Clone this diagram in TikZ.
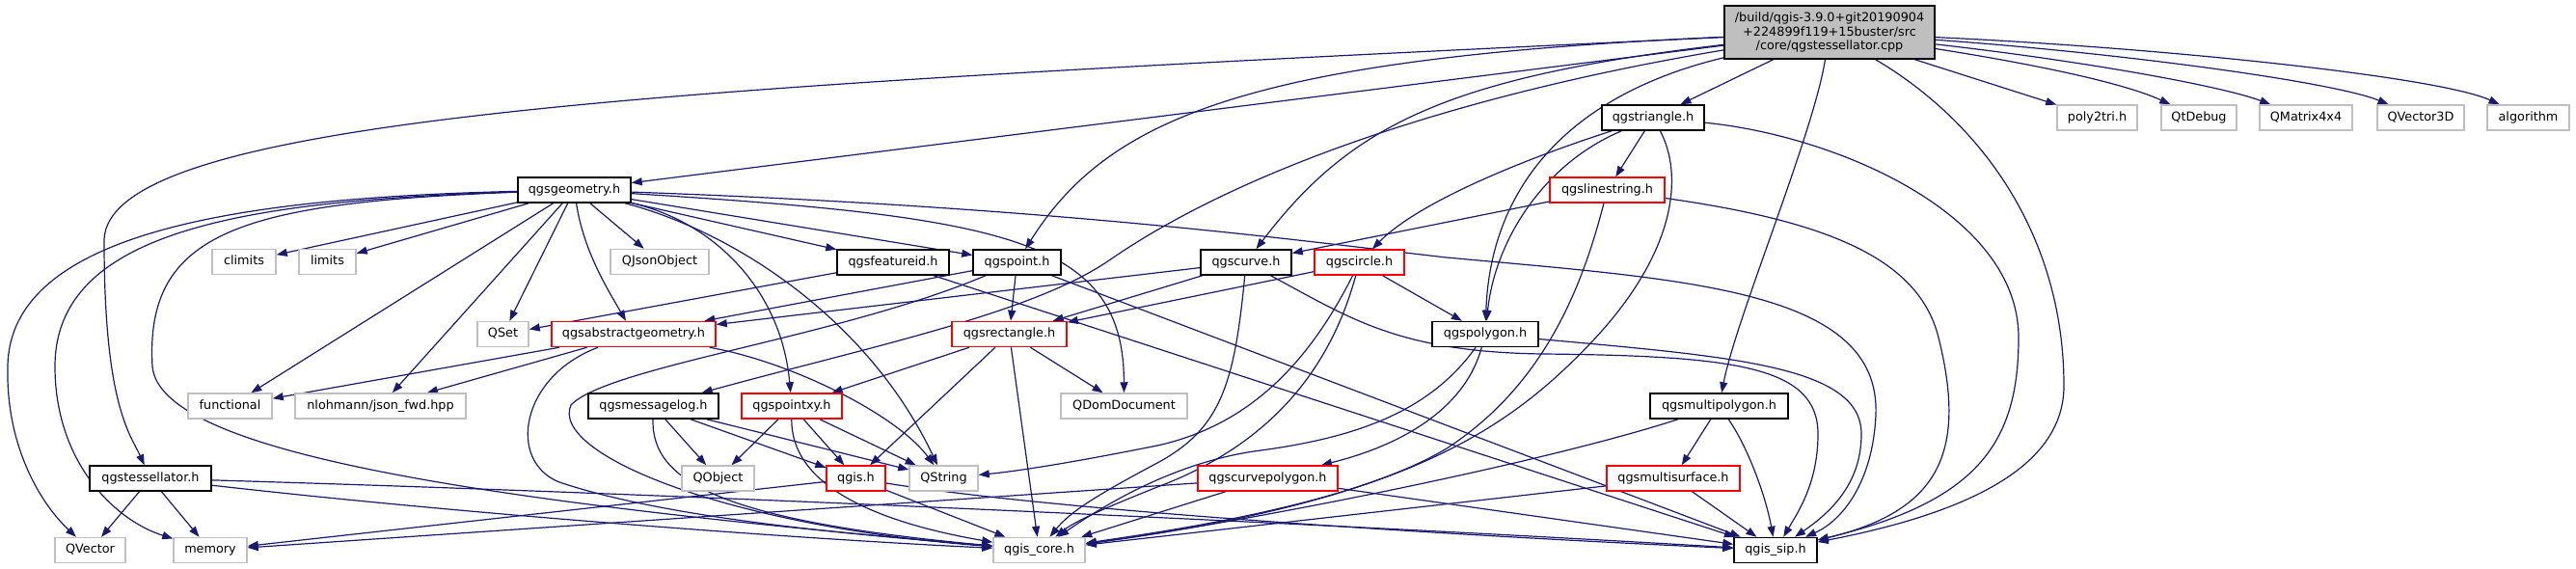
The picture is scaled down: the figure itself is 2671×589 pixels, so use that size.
\documentclass[tikz,border=0pt]{standalone}
\usepackage{fontspec}
\setmainfont{DejaVu Sans}
\usetikzlibrary{arrows.meta}
\pgfdeclarelayer{background}
\pgfsetlayers{background,main}
\definecolor{navy}{HTML}{191970}
\definecolor{greyb}{HTML}{BFBFBF}
\tikzset{
  nb/.style={draw, rectangle, fill=white, minimum height=26pt, inner xsep=2pt, inner ysep=0pt,
    text height=9.5pt, text depth=2.8pt, font=\fontsize{12.8}{15}\selectfont, line width=1.5pt},
  doc/.style={nb, draw=black},
  trunc/.style={nb, draw=red},
  ext/.style={nb, draw=greyb},
  srcnode/.style={draw=black, fill=greyb, rectangle, line width=1.5pt, minimum width=218pt, minimum height=55pt,
    inner sep=2pt, align=center, font=\fontsize{12.8}{14.5}\selectfont},
  dep/.style={draw=navy, line width=1.2pt, -{Triangle[length=11pt,width=8pt]}},
}
\begin{document}
\begin{tikzpicture}[x=1pt,y=-1pt]
\useasboundingbox (0,0) rectangle (2671,589);
\node[srcnode] (src) at (1897,33.5) {/build/qgis-3.9.0+git20190904\\+224899f119+15buster/src\\/core/qgstessellator.cpp};
\node[doc, minimum width=126pt] (tess) at (156,496) {qgstessellator.h};
\node[doc, minimum width=117pt] (geom) at (595.5,197) {qgsgeometry.h};
\node[doc, minimum width=106pt] (tri) at (1714,122) {qgstriangle.h};
\node[ext, minimum width=83pt] (poly2tri) at (2174.5,122) {poly2tri.h};
\node[ext, minimum width=78pt] (QtDebug) at (2280,122) {QtDebug};
\node[ext, minimum width=96pt] (QMatrix) at (2391,122) {QMatrix4x4};
\node[ext, minimum width=90pt] (QVectorThree) at (2510,122) {QVector3D};
\node[ext, minimum width=85pt] (algorithm) at (2621.5,122) {algorithm};
\node[trunc, minimum width=119pt] (linestring) at (1666.5,197) {qgslinestring.h};
\node[ext, minimum width=66pt] (climits) at (253,271.5) {climits};
\node[ext, minimum width=59pt] (limits) at (339.5,271.5) {limits};
\node[ext, minimum width=102pt] (QJsonObject) at (684,271.5) {QJsonObject};
\node[doc, minimum width=116pt] (featureid) at (926,272) {qgsfeatureid.h};
\node[doc, minimum width=91pt] (qgspoint) at (1054.5,272) {qgspoint.h};
\node[doc, minimum width=94pt] (curve) at (1292,272) {qgscurve.h};
\node[trunc, minimum width=93pt] (circle) at (1409.5,272) {qgscircle.h};
\node[ext, minimum width=53pt] (QSet) at (521.5,346.5) {QSet};
\node[trunc, minimum width=170pt] (abs) at (657,346.5) {qgsabstractgeometry.h};
\node[trunc, minimum width=119pt] (rect) at (1046.5,346.5) {qgsrectangle.h};
\node[doc, minimum width=110pt] (polygon) at (1540,346.5) {qgspolygon.h};
\node[ext, minimum width=87pt] (functional) at (238.5,421) {functional};
\node[ext, minimum width=177pt] (nlohmann) at (394.5,421) {nlohmann/json\_fwd.hpp};
\node[doc, minimum width=135pt] (msglog) at (677.5,421) {qgsmessagelog.h};
\node[trunc, minimum width=104pt] (pointxy) at (821,421) {qgspointxy.h};
\node[ext, minimum width=131pt] (QDomDocument) at (1165.5,421) {QDomDocument};
\node[doc, minimum width=143pt] (multipolygon) at (1782.5,421) {qgsmultipolygon.h};
\node[ext, minimum width=75pt] (QObject) at (744.5,496) {QObject};
\node[trunc, minimum width=61pt] (qgis) at (887.5,496) {qgis.h};
\node[ext, minimum width=71pt] (QString) at (978.5,496) {QString};
\node[trunc, minimum width=145pt] (curvepolygon) at (1314.5,496) {qgscurvepolygon.h};
\node[trunc, minimum width=138pt] (multisurface) at (1735,496) {qgsmultisurface.h};
\node[ext, minimum width=73pt] (QVector) at (93.5,570.5) {QVector};
\node[ext, minimum width=76pt] (memory) at (218,570.5) {memory};
\node[ext, minimum width=95pt] (qgiscore) at (1077.5,570.5) {qgis\_core.h};
\node[doc, minimum width=86pt] (qgissip) at (1841,570.5) {qgis\_sip.h};

\begin{pgfonlayer}{background}
% source file
\draw[dep] (src) .. controls (700,90) and (108,120) .. (108,250) .. controls (108,420) and (135,450) .. (tess);
\draw[dep] (src) -- (geom);
\draw[dep] (src) .. controls (1300,60) and (1150,120) .. (qgspoint);
\draw[dep] (src) .. controls (1500,100) and (1280,180) .. (1150,270) .. controls (1070,325) and (900,360) .. (msglog);
\draw[dep] (src) .. controls (1500,80) and (1400,130) .. (curve);
\draw[dep] (src) .. controls (1620,100) and (1545,200) .. (polygon);
\draw[dep] (src) -- (tri);
\draw[dep] (src) .. controls (1880,140) and (1800,330) .. (multipolygon);
\draw[dep] (src) .. controls (2060,130) and (2140,250) .. (2140,400) .. controls (2140,480) and (2050,530) .. (qgissip);
\draw[dep] (src) -- (poly2tri);
\draw[dep] (src) .. controls (2100,65) and (2200,85) .. (QtDebug);
\draw[dep] (src) .. controls (2150,62) and (2300,88) .. (QMatrix);
\draw[dep] (src) .. controls (2200,55) and (2420,85) .. (QVectorThree);
\draw[dep] (src) .. controls (2250,50) and (2530,80) .. (algorithm);
% qgsgeometry.h
\draw[dep] (geom) -- (climits);
\draw[dep] (geom) -- (limits);
\draw[dep] (geom) -- (QJsonObject);
\draw[dep] (geom) -- (featureid);
\draw[dep] (geom) -- (qgspoint);
\draw[dep] (geom) -- (QSet);
\draw[dep] (geom) .. controls (605,260) and (630,300) .. (abs);
\draw[dep] (geom) -- (functional);
\draw[dep] (geom) -- (nlohmann);
\draw[dep] (geom) .. controls (740,230) and (810,300) .. (pointxy);
\draw[dep] (geom) .. controls (760,240) and (900,330) .. (QString);
\draw[dep] (geom) .. controls (1050,225) and (1165,250) .. (QDomDocument);
\draw[dep] (geom) .. controls (1100,215) and (1350,250) .. (1500,267) .. controls (1750,290) and (1950,300) .. (1945,430) .. controls (1942,500) and (1910,540) .. (qgissip);
\draw[dep] (geom) .. controls (250,205) and (10,240) .. (8,380) .. controls (6,460) and (40,520) .. (QVector);
\draw[dep] (geom) .. controls (250,208) and (57,240) .. (57,380) .. controls (57,480) and (120,540) .. (memory);
\draw[dep] (geom) .. controls (250,210) and (150,240) .. (158,380) .. controls (166,470) and (500,520) .. (qgiscore);
% qgsfeatureid.h
\draw[dep] (featureid) -- (QSet);
\draw[dep] (featureid) -- (qgissip);
% qgspoint.h
\draw[dep] (qgspoint) -- (abs);
\draw[dep] (qgspoint) -- (rect);
\draw[dep] (qgspoint) -- (qgissip);
\draw[dep] (qgspoint) .. controls (870,350) and (630,380) .. (592,420) .. controls (570,470) and (750,545) .. (qgiscore);
% qgscurve.h
\draw[dep] (curve) -- (abs);
\draw[dep] (curve) -- (rect);
\draw[dep] (curve) .. controls (1280,400) and (1265,445) .. (1200,480) .. controls (1140,512) and (1110,530) .. (qgiscore);
\draw[dep] (curve) .. controls (1400,330) and (1450,365) .. (1600,367) .. controls (1800,369) and (1885,380) .. (1885,450) .. controls (1885,500) and (1865,530) .. (qgissip);
% qgscircle.h
\draw[dep] (circle) -- (rect);
\draw[dep] (circle) -- (polygon);
\draw[dep] (circle) .. controls (1360,370) and (1300,440) .. (1200,462) .. controls (1120,478) and (1060,488) .. (QString);
\draw[dep] (circle) .. controls (1380,380) and (1320,460) .. (1200,505) .. controls (1150,525) and (1115,540) .. (qgiscore);
% qgstriangle.h
\draw[dep] (tri) .. controls (1580,165) and (1470,210) .. (circle);
\draw[dep] (tri) .. controls (1600,170) and (1550,250) .. (polygon);
\draw[dep] (tri) -- (linestring);
\draw[dep] (tri) .. controls (1745,180) and (1740,260) .. (1650,355) .. controls (1560,450) and (1450,520) .. (qgiscore);
\draw[dep] (tri) .. controls (1900,140) and (2093,220) .. (2093,350) .. controls (2093,460) and (2050,520) .. (qgissip);
% qgslinestring.h
\draw[dep] (linestring) -- (curve);
\draw[dep] (linestring) .. controls (1640,300) and (1600,400) .. (1500,465) .. controls (1400,525) and (1200,552) .. (qgiscore);
\draw[dep] (linestring) .. controls (1900,230) and (1990,270) .. (2010,350) .. controls (2040,470) and (2010,530) .. (qgissip);
% qgsrectangle.h
\draw[dep] (rect) -- (pointxy);
\draw[dep] (rect) -- (qgis);
\draw[dep] (rect) -- (qgiscore);
\draw[dep] (rect) -- (QDomDocument);
% qgspolygon.h
\draw[dep] (polygon) .. controls (1520,420) and (1460,460) .. (curvepolygon);
\draw[dep] (polygon) .. controls (1480,430) and (1400,455) .. (1300,468) .. controls (1220,480) and (1150,520) .. (qgiscore);
\draw[dep] (polygon) .. controls (1800,370) and (1930,380) .. (1930,450) .. controls (1930,500) and (1900,530) .. (qgissip);
% qgsmultipolygon.h
\draw[dep] (multipolygon) .. controls (1600,480) and (1300,540) .. (qgiscore);
\draw[dep] (multipolygon) -- (multisurface);
\draw[dep] (multipolygon) .. controls (1810,460) and (1830,510) .. (qgissip);
% qgsmultisurface.h
\draw[dep] (multisurface) -- (qgiscore);
\draw[dep] (multisurface) -- (qgissip);
% qgscurvepolygon.h
\draw[dep] (curvepolygon) -- (memory);
\draw[dep] (curvepolygon) -- (qgiscore);
\draw[dep] (curvepolygon) -- (qgissip);
% qgsmessagelog.h
\draw[dep] (msglog) -- (QObject);
\draw[dep] (msglog) -- (qgis);
\draw[dep] (msglog) -- (QString);
\draw[dep] (msglog) .. controls (675,500) and (750,540) .. (qgiscore);
% qgspointxy.h
\draw[dep] (pointxy) -- (QObject);
\draw[dep] (pointxy) -- (qgis);
\draw[dep] (pointxy) -- (QString);
\draw[dep] (pointxy) .. controls (820,500) and (900,540) .. (qgiscore);
% qgis.h
\draw[dep] (qgis) -- (qgiscore);
\draw[dep] (qgis) -- (memory);
\draw[dep] (qgis) .. controls (1100,530) and (1500,555) .. (qgissip);
% qgstessellator.h
\draw[dep] (tess) -- (QVector);
\draw[dep] (tess) -- (memory);
\draw[dep] (tess) .. controls (500,535) and (850,560) .. (qgiscore);
\draw[dep] (tess) .. controls (800,515) and (1500,550) .. (qgissip);
% qgsabstractgeometry.h
\draw[dep] (abs) -- (functional);
\draw[dep] (abs) -- (nlohmann);
\draw[dep] (abs) .. controls (820,375) and (930,430) .. (QString);
\draw[dep] (abs) .. controls (540,390) and (525,478) .. (580,500) .. controls (700,540) and (900,555) .. (qgiscore);
\end{pgfonlayer}
\end{tikzpicture}
\end{document}
